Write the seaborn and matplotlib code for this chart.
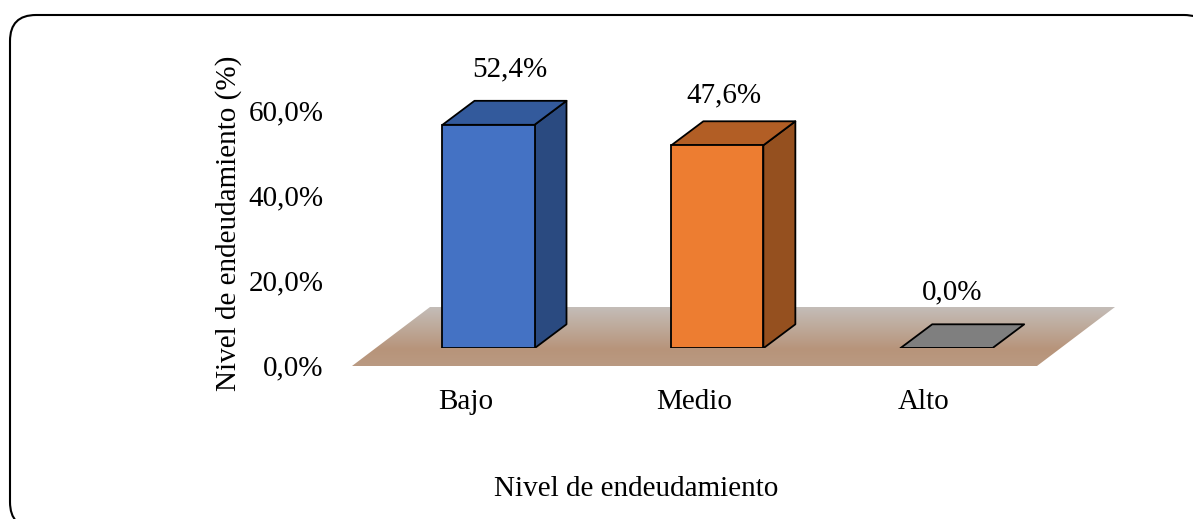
import numpy as np
import pandas as pd
import matplotlib
matplotlib.use("Agg")
import matplotlib.pyplot as plt
import seaborn as sns
from matplotlib.colors import LinearSegmentedColormap
from matplotlib.patches import FancyBboxPatch, Polygon
from matplotlib.transforms import ScaledTranslation

categories = ["Bajo", "Medio", "Alto"]
values = [52.4, 47.6, 0.0]
value_labels = ["52,4%", "47,6%", "0,0%"]
y_ticks = [0, 20, 40, 60]
y_tick_labels = ["0,0%", "20,0%", "40,0%", "60,0%"]
x_title = "Nivel de endeudamiento"
y_title = "Nivel de endeudamiento (%)"

front_colors = ["#4472C4", "#ED7D31", "#7F7F7F"]
side_colors = ["#2A4A80", "#95501F", "#5A5A5A"]
top_colors = ["#335A9C", "#B25E25", "#7F7F7F"]

W, H = 1193, 519
FS = 21
sns.set_theme(style="white")
plt.rcParams["font.family"] = ["Liberation Serif", "DejaVu Serif"]
plt.rcParams["font.size"] = FS

fig = plt.figure(figsize=(W / 100, H / 100), dpi=100, facecolor="white")


def px_axes(left, right, top, bottom, **kw):
    return fig.add_axes([left / W, 1 - bottom / H, (right - left) / W, (bottom - top) / H], **kw)


# page frame
bg = fig.add_axes([0, 0, 1, 1], zorder=0)
bg.set_xlim(0, W)
bg.set_ylim(H, 0)
bg.axis("off")
bg.add_patch(FancyBboxPatch((36, 41), 1210 - 36 - 26, 528 - 41 - 26,
                            boxstyle="round,pad=26,rounding_size=26",
                            fc="white", ec="black", lw=1.5))

# axis geometry
SPACING = 228.85
X0 = 488.5
L, R = 352, 1115
xlim = ((L - X0) / SPACING, (R - X0) / SPACING)
DX = 32 / SPACING
BAR_W = 92 / SPACING

# floor, ticks and titles
ax = px_axes(L, R, 111, 366, zorder=1)
ax.patch.set_alpha(0)
ax.set_xlim(*xlim)
ax.set_ylim(0, 60)
sns.despine(ax=ax, left=True, bottom=True)
ax.set_yticks(y_ticks, y_tick_labels, fontsize=FS, color="black")
ax.set_xticks(range(len(categories)), categories, fontsize=FS, color="black")
ax.tick_params(axis="y", length=0, pad=20.5)
ax.tick_params(axis="x", length=0, pad=16.5)
for lab in ax.get_xticklabels():
    lab.set_transform(lab.get_transform() + ScaledTranslation(-23 / 100, 0, fig.dpi_scale_trans))
for lab in ax.get_yticklabels():
    lab.set_transform(lab.get_transform() + ScaledTranslation(0, 1 / 100, fig.dpi_scale_trans))

floor_h = 59 / 4.25
floor_dx = 78 / SPACING
x_front_l = xlim[0]
x_front_r = (1037 - X0) / SPACING
floor_cmap = LinearSegmentedColormap.from_list(
    "floor", [(0, "#C4BDB8"), (0.72, "#B7947A"), (1, "#BA9A82")])
grad = np.linspace(0, 1, 256).reshape(-1, 1)
im = ax.imshow(grad, cmap=floor_cmap, aspect="auto", origin="upper",
               extent=(xlim[0], xlim[1], 0, floor_h), zorder=1)
clip = Polygon([(x_front_l, 0), (x_front_r, 0), (x_front_r + floor_dx, floor_h),
                (x_front_l + floor_dx, floor_h)], transform=ax.transData, fc="none", ec="none")
ax.add_patch(clip)
im.set_clip_path(clip)
ax.set_xlim(*xlim)
ax.set_ylim(0, 60)

ax.set_xlabel(x_title, fontsize=FS, color="black", va="center", ha="center")
ax.xaxis.set_label_coords(636, 489, transform=bg.transData)
ax.set_ylabel(y_title, fontsize=FS, color="black", va="center", ha="center")
ax.yaxis.set_label_coords(229, 223, transform=bg.transData)

# bars
SCALE = 4.265
over_h = 60 * SCALE
over = px_axes(L, R, 348.3 - over_h, 348.3, zorder=2)
over.patch.set_alpha(0)
df = pd.DataFrame({"cat": categories, "val": values})
sns.barplot(data=df, x="cat", y="val", hue="cat", palette=front_colors, width=BAR_W,
            dodge=False, legend=False, edgecolor="black", linewidth=1.3,
            saturation=1, ax=over, zorder=4)
over.set_xlim(*xlim)
over.set_ylim(0, 60)
over.axis("off")

DY = 24 / SCALE
for i, v in enumerate(values):
    xl, xr = i - BAR_W / 2, i + BAR_W / 2
    if v > 0:
        over.add_patch(Polygon([(xr, 0), (xr + DX, DY), (xr + DX, v + DY), (xr, v)],
                               fc=side_colors[i], ec="black", lw=1.3, zorder=3, joinstyle="round"))
    over.add_patch(Polygon([(xl, v), (xr, v), (xr + DX, v + DY), (xl + DX, v + DY)],
                           fc=top_colors[i], ec="black", lw=1.3, zorder=3, joinstyle="round"))

# data labels, offset in pixels from each bar's top centre
offsets_px = [(21, 55), (7, 49.5), (6, 56)]
for i, (v, txt) in enumerate(zip(values, value_labels)):
    over.annotate(txt, (i, v), xytext=(offsets_px[i][0] * 0.72, offsets_px[i][1] * 0.72),
                  textcoords="offset points", ha="center", va="center",
                  fontsize=FS, color="black", annotation_clip=False)

fig.savefig("out.png", dpi=100, facecolor="white")
